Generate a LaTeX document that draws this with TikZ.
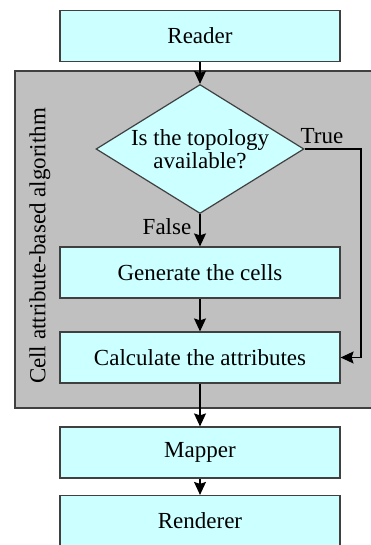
\documentclass[tikz,border=0pt]{standalone}
\usepackage{fontspec}
\setmainfont{Liberation Serif}
\usetikzlibrary{shapes.geometric,arrows.meta}
\definecolor{boxcyan}{HTML}{CCFFFF}
\definecolor{regiongray}{HTML}{C0C0C0}
\definecolor{edgegray}{HTML}{404040}
\tikzset{
  stage/.style = {draw = edgegray, fill = boxcyan, line width = 1.2pt,
    minimum width = 280pt, minimum height = 51pt, inner sep = 0pt,
    font = \fontsize{23}{25}\selectfont},
  decision/.style = {diamond, draw = edgegray, fill = boxcyan, line width = 1.2pt,
    minimum width = 208pt, minimum height = 129pt, inner sep = -30pt,
    align = center, font = \fontsize{23}{23}\selectfont},
  flow/.style = {line width = 1.2pt, -{Stealth[length = 13pt, width = 12pt, inset = 2pt]}},
  tag/.style = {font = \fontsize{23}{25}\selectfont}
}
\begin{document}
\begin{tikzpicture}[x = 1pt, y = -1pt]
    \useasboundingbox (0,0) rectangle (371,545);
    \clip (0,0) rectangle (371,545);
    \fill[white] (0,0) rectangle (371,545);
    \draw[draw = edgegray, fill = regiongray, line width = 1.2pt] (15,71) rectangle (400,408);
    \node[tag, rotate = 90] (region) at (40,246) {Cell attribute-based algorithm};
    \node[stage] (reader) at (200,36) {Reader};
    \node[decision] (topo) at (200,149) {Is the topology\\available?};
    \node[stage] (gen) at (200,272.5) {Generate the cells};
    \node[stage] (calc) at (200,357.5) {Calculate the attributes};
    \node[stage] (mapper) at (200,452.5) {Mapper};
    \node[stage] (renderer) at (200,521) {Renderer};
    \node[tag] (truelbl) at (322,136) {True};
    \node[tag] (falselbl) at (167,227) {False};
    \coordinate (bend) at (361,149);
    \draw[flow] (reader) -- (topo);
    \draw[flow] (topo) -- (gen);
    \draw[flow] (gen) -- (calc);
    \draw[flow] (topo.east) -- (bend) |- (calc.east);
    \draw[flow] (calc) -- (mapper);
    \draw[flow] (mapper) -- (renderer);
\end{tikzpicture}
\end{document}
